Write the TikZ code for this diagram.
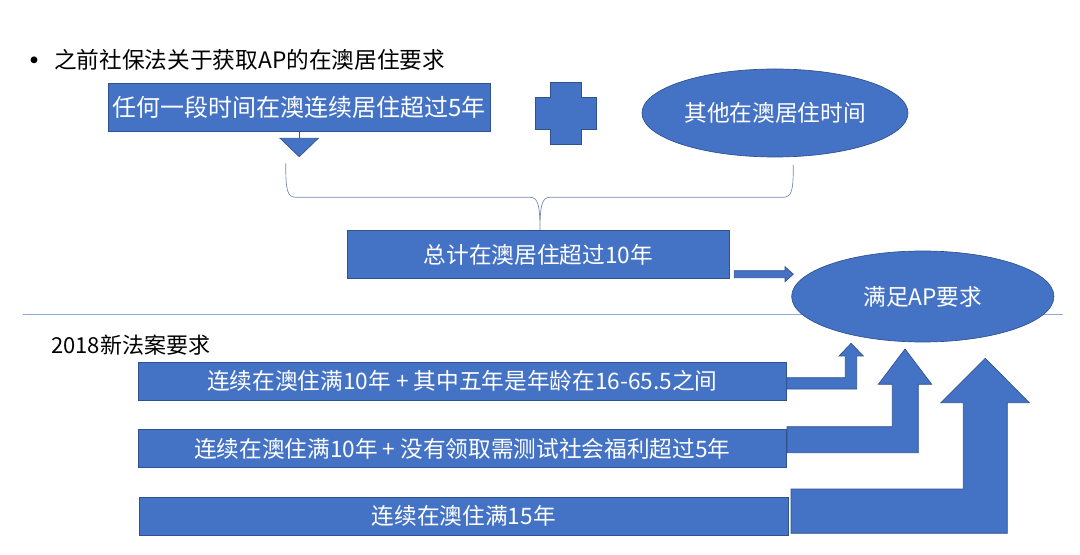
\documentclass[tikz,border=0pt]{standalone}
\usepackage{fontspec}
\setmainfont{Noto Sans CJK SC}
\usetikzlibrary{shapes.geometric}
\definecolor{boxblue}{HTML}{4472C4}
\definecolor{edgeblue}{HTML}{2F528F}
\definecolor{lineblue}{HTML}{8FAADC}
\begin{document}
\begin{tikzpicture}[x=0.75pt,y=0.75pt,yscale=-1,xscale=1,
  box/.style={draw=edgeblue, line width=0.5pt, fill=boxblue, text=white, inner sep=0pt, font=\fontsize{17}{20}\selectfont},
  oval/.style={box, ellipse},
  blockarrow/.style={draw=edgeblue, line width=0.5pt, fill=boxblue},
  caption/.style={inner sep=0pt, anchor=west, font=\fontsize{17}{20}\selectfont}]
\useasboundingbox (0,0) rectangle (1080,555);

%Straight Lines [separator]
\draw [lineblue, line width=0.75pt] (22.7,315) -- (1063,315) ;
%Shape: Brace
\draw [lineblue!80!black, line width=0.5pt] (285.7,163.3) .. controls (285.7,190) and (287,197.3) .. (296,197.3) -- (530,197.3) .. controls (538,197.3) and (540,205) .. (540,230.5) .. controls (540,205) and (542,197.3) .. (550,197.3) -- (783,197.3) .. controls (792,197.3) and (793.3,190) .. (793.3,165) ;

% Text Node
\draw (34.5,64.5) node [caption, anchor=center, font=\fontsize{24}{24}\selectfont] (bullet) {•};
% Text Node
\draw (54,60) node [caption] (oldtitle) {之前社保法关于获取AP的在澳居住要求};
% Text Node
\draw (51,345) node [caption, font=\fontsize{16.5}{20}\selectfont] (newtitle) {2018新法案要求};

%Shape: Rectangle
\draw (299,107) node [box, minimum width=286.5pt, minimum height=36pt, font=\fontsize{18}{22}\selectfont] (top) {任何一段时间在澳连续居住超过5年};
%Straight Lines
\draw [edgeblue, line width=0.5pt] (top.south -| 299,0) -- (299,138.3) coordinate (stem) ;
%Shape: Triangle
\draw [blockarrow] (280,138.3) -- (318.3,138.3) -- (299.2,156.7) -- cycle ;
%Shape: Cross
\draw [blockarrow] (550.7,82.3) -- (581.7,82.3) -- (581.7,97.3) -- (596.7,97.3) -- (596.7,129.3) -- (581.7,129.3) -- (581.7,144.3) -- (550.7,144.3) -- (550.7,129.3) -- (535,129.3) -- (535,97.3) -- (550.7,97.3) -- cycle ;
%Shape: Ellipse
\draw (775,113) node [oval, minimum width=199.5pt, minimum height=66pt] (other) {其他在澳居住时间};

%Shape: Rectangle
\draw (538.3,254.4) node [box, minimum width=286.5pt, minimum height=36pt] (total) {总计在澳居住超过10年};
%Right Arrow
\draw [blockarrow] (734.3,270.7) -- (785,270.7) -- (785,266.7) -- (793.3,274.2) -- (785,281.7) -- (785,277.7) -- (734.3,277.7) -- cycle ;
%Shape: Ellipse
\draw (922.8,296.5) node [oval, minimum width=196.7pt, minimum height=68.25pt] (goal) {满足AP要求};

%Shape: Rectangle
\draw (462.3,381) node [box, minimum width=486.5pt, minimum height=28.5pt] (rowa) {连续在澳住满10年 + 其中五年是年龄在16-65.5之间};
%Shape: Rectangle
\draw (462.3,448.5) node [box, minimum width=486.5pt, minimum height=28.5pt] (rowb) {连续在澳住满10年 + 没有领取需测试社会福利超过5年};
%Shape: Rectangle
\draw (463.8,516.2) node [box, minimum width=486.75pt, minimum height=28.9pt] (rowc) {连续在澳住满15年};

%Bent Up Arrow
\draw [blockarrow] (786.7,377.7) -- (845.3,377.7) -- (845.3,356) -- (839,356) -- (851.1,343.3) -- (863.3,356) -- (856.7,356) -- (856.7,389) -- (786.7,389) -- cycle ;
%Bent Up Arrow
\draw [blockarrow] (787,426.7) -- (892.3,426.7) -- (892.3,384.3) -- (878.3,384.3) -- (905,349) -- (931.7,384.3) -- (918.3,384.3) -- (918.3,452.7) -- (787,452.7) -- cycle ;
%Bent Up Arrow
\draw [blockarrow] (791,489) -- (963.3,489) -- (963.3,402.7) -- (941,402.7) -- (985.2,358.3) -- (1029.3,402.7) -- (1007.3,402.7) -- (1007.3,533.3) -- (791,533.3) -- cycle ;

\end{tikzpicture}
\end{document}
